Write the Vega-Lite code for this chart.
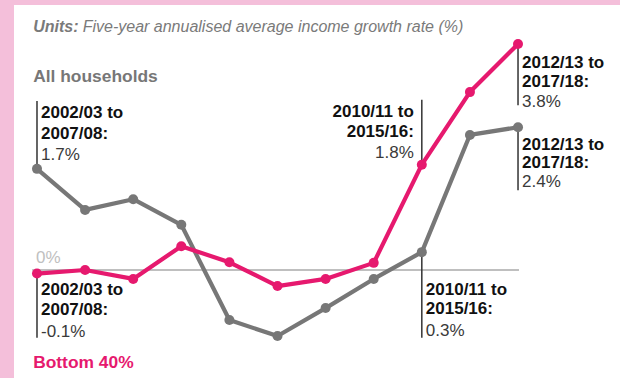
{
  "$schema": "https://vega.github.io/schema/vega-lite/v6.json",
  "width": 606,
  "height": 373,
  "autosize": "none",
  "padding": {"left": 14, "top": 5, "right": 0, "bottom": 0},
  "background": "#f4bfda",
  "config": {"view": {"fill": "white", "stroke": null}, "font": "Liberation Sans"},
  "datasets": {
    "series": [
      {"year": 2002, "group": "All households", "v": 1.7},
      {"year": 2003, "group": "All households", "v": 1.01},
      {"year": 2004, "group": "All households", "v": 1.19},
      {"year": 2005, "group": "All households", "v": 0.76},
      {"year": 2006, "group": "All households", "v": -0.84},
      {"year": 2007, "group": "All households", "v": -1.11},
      {"year": 2008, "group": "All households", "v": -0.64},
      {"year": 2009, "group": "All households", "v": -0.15},
      {"year": 2010, "group": "All households", "v": 0.3},
      {"year": 2011, "group": "All households", "v": 2.27},
      {"year": 2012, "group": "All households", "v": 2.4},
      {"year": 2002, "group": "Bottom 40%", "v": -0.06},
      {"year": 2003, "group": "Bottom 40%", "v": 0.0},
      {"year": 2004, "group": "Bottom 40%", "v": -0.15},
      {"year": 2005, "group": "Bottom 40%", "v": 0.4},
      {"year": 2006, "group": "Bottom 40%", "v": 0.13},
      {"year": 2007, "group": "Bottom 40%", "v": -0.27},
      {"year": 2008, "group": "Bottom 40%", "v": -0.15},
      {"year": 2009, "group": "Bottom 40%", "v": 0.12},
      {"year": 2010, "group": "Bottom 40%", "v": 1.77},
      {"year": 2011, "group": "Bottom 40%", "v": 2.99},
      {"year": 2012, "group": "Bottom 40%", "v": 3.8}
    ],
    "leaders": [
      {"year": 2002, "v": 1.7, "v2": 2.84},
      {"year": 2002, "v": -0.06, "v2": -1.14},
      {"year": 2010, "v": 1.77, "v2": 2.86},
      {"year": 2010, "v": 0.3, "v2": -1.14},
      {"year": 2012, "v": 3.8, "v2": 2.77},
      {"year": 2012, "v": 2.4, "v2": 1.34}
    ],
    "labels": [
      {"year": 2002, "v": 2.64, "text": "2002/03 to", "kind": "bold", "side": "L"},
      {"year": 2002, "v": 2.29, "text": "2007/08:", "kind": "bold", "side": "L"},
      {"year": 2002, "v": 1.93, "text": "1.7%", "kind": "value", "side": "L"},
      {"year": 2002, "v": -0.34, "text": "2002/03 to", "kind": "bold", "side": "L"},
      {"year": 2002, "v": -0.67, "text": "2007/08:", "kind": "bold", "side": "L"},
      {"year": 2002, "v": -1.04, "text": "-0.1%", "kind": "value", "side": "L"},
      {"year": 2010, "v": 2.66, "text": "2010/11 to", "kind": "bold", "side": "R"},
      {"year": 2010, "v": 2.32, "text": "2015/16:", "kind": "bold", "side": "R"},
      {"year": 2010, "v": 1.97, "text": "1.8%", "kind": "value", "side": "R"},
      {"year": 2010, "v": -0.34, "text": "2010/11 to", "kind": "bold", "side": "L"},
      {"year": 2010, "v": -0.66, "text": "2015/16:", "kind": "bold", "side": "L"},
      {"year": 2010, "v": -1.03, "text": "0.3%", "kind": "value", "side": "L"},
      {"year": 2012, "v": 3.48, "text": "2012/13 to", "kind": "bold", "side": "L"},
      {"year": 2012, "v": 3.16, "text": "2017/18:", "kind": "bold", "side": "L"},
      {"year": 2012, "v": 2.82, "text": "3.8%", "kind": "value", "side": "L"},
      {"year": 2012, "v": 2.1, "text": "2012/13 to", "kind": "bold", "side": "L"},
      {"year": 2012, "v": 1.8, "text": "2017/18:", "kind": "bold", "side": "L"},
      {"year": 2012, "v": 1.48, "text": "2.4%", "kind": "value", "side": "L"}
    ]
  },
  "layer": [
    {
      "data": {"values": [{"x1": 2001.9, "x2": 2012.02, "v": 0}]},
      "mark": {"type": "rule", "color": "#aaaaaa", "strokeWidth": 1.5},
      "encoding": {
        "x": {"field": "x1", "type": "quantitative", "scale": {"domain": [2001.522, 2014.12], "nice": false, "zero": false}, "axis": null},
        "x2": {"field": "x2"},
        "y": {"field": "v", "type": "quantitative", "scale": {"domain": [-1.815, 4.454], "nice": false, "zero": false}, "axis": null}
      }
    },
    {
      "data": {"name": "leaders"},
      "mark": {"type": "rule", "color": "#333333", "strokeWidth": 1.5},
      "encoding": {
        "x": {"field": "year", "type": "quantitative"},
        "y": {"field": "v", "type": "quantitative"},
        "y2": {"field": "v2"}
      }
    },
    {
      "data": {"name": "series"},
      "mark": {"type": "line", "strokeWidth": 4.2, "strokeJoin": "round"},
      "encoding": {
        "x": {"field": "year", "type": "quantitative"},
        "y": {"field": "v", "type": "quantitative"},
        "color": {"field": "group", "type": "nominal", "scale": {"domain": ["All households", "Bottom 40%"], "range": ["#777777", "#e6196e"]}, "legend": null}
      }
    },
    {
      "data": {"name": "series"},
      "mark": {"type": "point", "filled": true, "opacity": 1, "size": 100},
      "encoding": {
        "x": {"field": "year", "type": "quantitative"},
        "y": {"field": "v", "type": "quantitative"},
        "color": {"field": "group", "type": "nominal", "legend": null}
      }
    },
    {
      "data": {"name": "labels"},
      "transform": [{"filter": "datum.kind === 'bold' && datum.side === 'L'"}],
      "mark": {"type": "text", "align": "left", "baseline": "middle", "dx": 4, "fontSize": 17, "fontWeight": "bold", "color": "#111111"},
      "encoding": {
        "x": {"field": "year", "type": "quantitative"},
        "y": {"field": "v", "type": "quantitative"},
        "text": {"field": "text"}
      }
    },
    {
      "data": {"name": "labels"},
      "transform": [{"filter": "datum.kind === 'value' && datum.side === 'L'"}],
      "mark": {"type": "text", "align": "left", "baseline": "middle", "dx": 4, "fontSize": 17, "color": "#3a3a3a"},
      "encoding": {
        "x": {"field": "year", "type": "quantitative"},
        "y": {"field": "v", "type": "quantitative"},
        "text": {"field": "text"}
      }
    },
    {
      "data": {"name": "labels"},
      "transform": [{"filter": "datum.kind === 'bold' && datum.side === 'R'"}],
      "mark": {"type": "text", "align": "right", "baseline": "middle", "dx": -8, "fontSize": 17, "fontWeight": "bold", "color": "#111111"},
      "encoding": {
        "x": {"field": "year", "type": "quantitative"},
        "y": {"field": "v", "type": "quantitative"},
        "text": {"field": "text"}
      }
    },
    {
      "data": {"name": "labels"},
      "transform": [{"filter": "datum.kind === 'value' && datum.side === 'R'"}],
      "mark": {"type": "text", "align": "right", "baseline": "middle", "dx": -8, "fontSize": 17, "color": "#3a3a3a"},
      "encoding": {
        "x": {"field": "year", "type": "quantitative"},
        "y": {"field": "v", "type": "quantitative"},
        "text": {"field": "text"}
      }
    },
    {
      "data": {"values": [{"year": 2001.92, "v": 4.08, "text": "Units:"}]},
      "mark": {"type": "text", "align": "left", "baseline": "middle", "fontSize": 16, "fontWeight": "bold", "fontStyle": "italic", "color": "#7a7a7a"},
      "encoding": {
        "x": {"field": "year", "type": "quantitative"},
        "y": {"field": "v", "type": "quantitative"},
        "text": {"field": "text"}
      }
    },
    {
      "data": {"values": [{"year": 2002.95, "v": 4.08, "text": "Five-year annualised average income growth rate (%)"}]},
      "mark": {"type": "text", "align": "left", "baseline": "middle", "fontSize": 16, "fontStyle": "italic", "color": "#7a7a7a"},
      "encoding": {
        "x": {"field": "year", "type": "quantitative"},
        "y": {"field": "v", "type": "quantitative"},
        "text": {"field": "text"}
      }
    },
    {
      "data": {"values": [
        {"year": 2001.92, "v": 3.24, "text": "All households", "group": "All households"},
        {"year": 2001.92, "v": -1.56, "text": "Bottom 40%", "group": "Bottom 40%"}
      ]},
      "mark": {"type": "text", "align": "left", "baseline": "middle", "fontSize": 17.4, "fontWeight": "bold"},
      "encoding": {
        "x": {"field": "year", "type": "quantitative"},
        "y": {"field": "v", "type": "quantitative"},
        "text": {"field": "text"},
        "color": {"field": "group", "type": "nominal", "legend": null}
      }
    },
    {
      "data": {"values": [{"year": 2001.98, "v": 0.2, "text": "0%"}]},
      "mark": {"type": "text", "align": "left", "baseline": "middle", "fontSize": 17, "color": "#c0c0c0"},
      "encoding": {
        "x": {"field": "year", "type": "quantitative"},
        "y": {"field": "v", "type": "quantitative"},
        "text": {"field": "text"}
      }
    }
  ]
}
